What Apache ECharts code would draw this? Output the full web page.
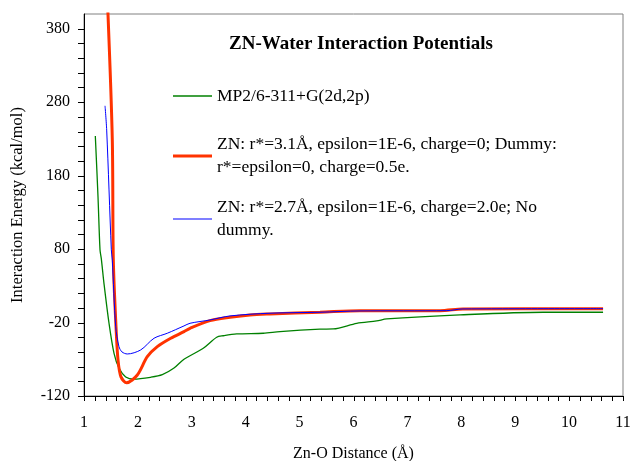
<!DOCTYPE html>
<html>
<head>
<meta charset="utf-8">
<script src="https://cdn.jsdelivr.net/npm/echarts@6/dist/echarts.min.js"></script>
<style>html,body{margin:0;padding:0;background:#fff;}#c{width:630px;height:461px;}</style>
</head>
<body>
<div id="c"></div>
<script>
// Zn-O distance (Å) and interaction energy (kcal/mol)
var mp2Dist   = [1.21, 1.26, 1.297, 1.321, 1.371, 1.464, 1.557, 1.649, 1.774, 1.928, 2.237, 2.453, 2.67, 2.855, 3.213, 3.462, 3.584, 3.833, 4.327, 4.636, 5.378, 5.625, 6.06, 6.43, 6.616, 7.976, 9.516, 10.63];
var mp2Energy = [234, 151, 79, 67, 33, -21, -62, -82, -94, -97, -94.5, -91, -82, -70, -55, -40, -38, -35.5, -34.6, -32.4, -29, -28.7, -21, -17.8, -15.1, -9.6, -6, -6];

var dummyDist   = [1.40, 1.445, 1.525, 1.544, 1.594, 1.631, 1.686, 1.792, 1.989, 2.174, 2.36, 2.609, 2.855, 2.967, 3.338, 3.709, 4.08, 4.451, 5.378, 6.12, 7.605, 8.03, 10.63];
var dummyEnergy = [460, 400, 229, 65, -26, -71, -94, -102, -91.4, -66.5, -52.8, -41.4, -32.4, -27.8, -17.4, -12.8, -9.6, -8.3, -6, -3.8, -3.8, -1.5, -1.1];

var noDummyDist   = [1.39, 1.421, 1.507, 1.525, 1.588, 1.649, 1.705, 1.803, 2.052, 2.299, 2.545, 2.855, 2.967, 3.338, 3.709, 4.451, 5.378, 6.12, 7.73, 8.03, 10.63];
var noDummyEnergy = [275, 242, 79, 65, -25.6, -52.8, -60, -62.8, -57.3, -41.4, -34.6, -24.6, -21, -16.5, -11, -7.3, -6, -4.2, -3.8, -1.5, -1.1];

var yTickLabels = [-120, -20, 80, 180, 280, 380];
var xTickLabels = [1, 2, 3, 4, 5, 6, 7, 8, 9, 10, 11];

var nameMP2 = 'MP2/6-311+G(2d,2p)';
var nameDummy = 'ZN: r*=3.1Å, epsilon=1E-6, charge=0; Dummy:\nr*=epsilon=0, charge=0.5e.';
var nameNoDummy = 'ZN: r*=2.7Å, epsilon=1E-6, charge=2.0e; No\ndummy.';

var X_MIN = 1, X_MAX = 11, X_STEP = 0.2;
var Y_MIN = -120, Y_MAX = 400, Y_STEP = 20;

function pairs(xs, ys) { return xs.map(function (x, i) { return [x, ys[i]]; }); }
function inList(list, v) {
  for (var i = 0; i < list.length; i++) if (Math.abs(v - list[i]) < 1e-6) return String(list[i]);
  return '';
}
// tick positions along each axis (axis decoration, not data)
var tickData = [];
for (var k = 0; X_MIN + k * X_STEP <= X_MAX + 1e-9; k++) tickData.push([X_MIN + k * X_STEP, Y_MIN, 0]);
for (var j = 0; Y_MIN + j * Y_STEP <= Y_MAX - Y_STEP + 1e-9; j++) tickData.push([X_MIN, Y_MIN + j * Y_STEP, 1]);

var FONT = 'Liberation Serif';
var LH = 23;
var chart = echarts.init(document.getElementById('c'), null, {renderer: 'canvas'});

function legendFor(name, centerY, twoLines, color, width) {
  var h = twoLines ? 3 * LH : LH;
  return {
    data: [name], left: 173, top: centerY - h / 2, padding: 0, itemWidth: 39, itemHeight: width,
    icon: 'rect', selectedMode: false,
    itemStyle: {color: color},
    textStyle: {fontFamily: FONT, fontSize: 17.5, color: '#000', lineHeight: LH, padding: twoLines ? [LH, 0, 0, 0] : 0}
  };
}

chart.setOption({
  animation: false,
  backgroundColor: '#fff',
  title: {
    text: 'ZN-Water Interaction Potentials', left: 224, top: 30,
    textStyle: {fontFamily: FONT, fontSize: 19, fontWeight: 'bold', color: '#000'}
  },
  legend: [
    legendFor(nameMP2, 96, false, '#008000', 1.3),
    legendFor(nameDummy, 156, true, '#ff3300', 3),
    legendFor(nameNoDummy, 219, true, '#0000ff', 1)
  ],
  grid: {left: 84, top: 14, right: 7, bottom: 65, show: true, borderColor: '#808080', borderWidth: 1,
         containLabel: false, outerBoundsMode: 'none'},
  xAxis: {
    type: 'value', min: X_MIN, max: X_MAX, interval: X_STEP,
    name: 'Zn-O Distance (Å)', nameLocation: 'middle', nameGap: 50,
    nameTextStyle: {fontFamily: FONT, fontSize: 16, color: '#000'},
    axisLine: {onZero: false, lineStyle: {color: '#000', width: 1}},
    axisTick: {show: false},
    splitLine: {show: false},
    axisLabel: {
      fontFamily: FONT, fontSize: 16, color: '#000', margin: 19,
      formatter: function (v) { return inList(xTickLabels, v); }
    }
  },
  yAxis: {
    type: 'value', min: Y_MIN, max: Y_MAX, interval: Y_STEP,
    name: 'Interaction Energy (kcal/mol)', nameLocation: 'middle', nameGap: 58,
    nameTextStyle: {fontFamily: FONT, fontSize: 16.5, color: '#000'},
    axisLine: {show: true, lineStyle: {color: '#000', width: 1}},
    axisTick: {show: false},
    splitLine: {show: false},
    axisLabel: {
      fontFamily: FONT, fontSize: 16, color: '#000', margin: 14,
      formatter: function (v) { return inList(yTickLabels, v); }
    }
  },
  series: [
    {name: nameMP2, type: 'line', data: pairs(mp2Dist, mp2Energy), symbol: 'none', smooth: 0.3, z: 2,
     lineStyle: {color: '#008000', width: 1.3}, itemStyle: {color: '#008000'}},
    {name: nameDummy, type: 'line', data: pairs(dummyDist, dummyEnergy), symbol: 'none', smooth: 0.3, z: 3,
     lineStyle: {color: '#ff3300', width: 3}, itemStyle: {color: '#ff3300'}},
    {name: nameNoDummy, type: 'line', data: pairs(noDummyDist, noDummyEnergy), symbol: 'none', smooth: 0.3, z: 4,
     lineStyle: {color: '#0000ff', width: 1}, itemStyle: {color: '#0000ff'}},
    {
      type: 'custom', data: tickData, silent: true, clip: false, z: 5, legendHoverLink: false,
      encode: {x: 0, y: 1},
      renderItem: function (params, api) {
        var p = api.coord([api.value(0), api.value(1)]);
        var isY = api.value(2) === 1;
        var x = Math.round(p[0]) + (isY ? 0 : 0.5);
        var y = Math.round(p[1]) + (isY ? 0.5 : 0);
        return {
          type: 'line',
          shape: isY ? {x1: x - 6, y1: y, x2: x, y2: y} : {x1: x, y1: y, x2: x, y2: y + 5},
          style: {stroke: '#000', lineWidth: 1}
        };
      }
    }
  ]
});
</script>
</body>
</html>
